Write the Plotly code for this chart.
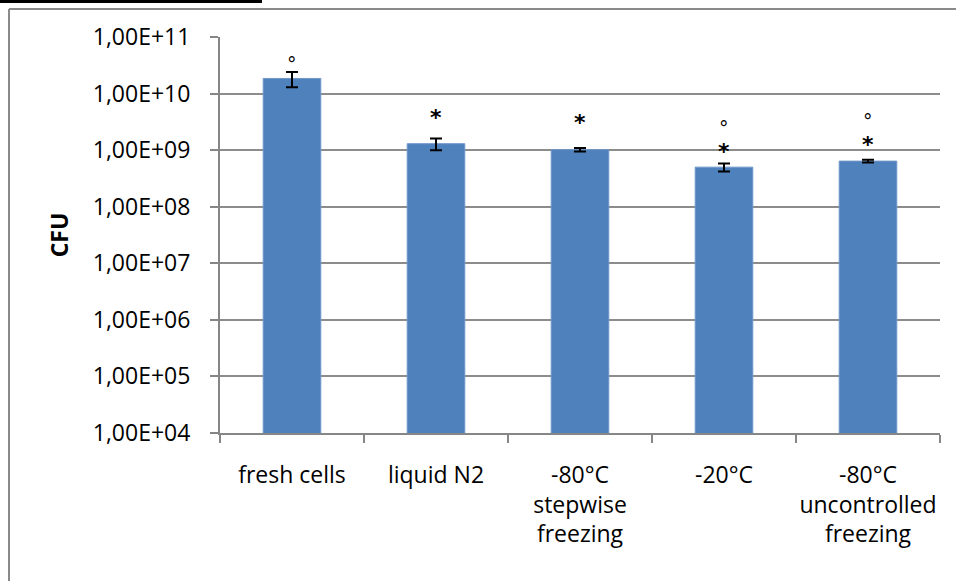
import math
import plotly.graph_objects as go

categories = ["fresh cells", "liquid N2", "-80°C<br>stepwise<br>freezing", "-20°C",
              "-80°C<br>uncontrolled<br>freezing"]
cfu = [1.85e10, 1.30e9, 1.02e9, 5.0e8, 6.4e8]
cfu_err = [5.6e9, 3.0e8, 7.0e7, 8.0e7, 3.5e7]
tick_vals = [1e4, 1e5, 1e6, 1e7, 1e8, 1e9, 1e10, 1e11]
tick_text = ["1,00E+04", "1,00E+05", "1,00E+06", "1,00E+07", "1,00E+08",
             "1,00E+09", "1,00E+10", "1,00E+11"]
# significance marks per bar
degree_mark = [True, False, False, True, True]
star_mark = [False, True, True, True, True]

FONT = "Open Sans"
SYM_FONT = "DejaVu Sans"
W, H = 956, 581
ML, MR, MT, MB = 220, 16, 37, 148

# pixel offsets of the marks above the error-bar tops (style only)
star_shift = [0, 21, 26, 12, 15]
degree_shift = [8, 0, 0, 36, 39]

fig = go.Figure()
fig.add_trace(go.Bar(
    x=categories, y=cfu,
    marker=dict(color="#4F81BD", line=dict(color="#6f96c8", width=1)),
    error_y=dict(type="data", array=cfu_err, visible=True,
                 color="black", thickness=2, width=6),
    width=0.4,
))

annotations = []
for i, (cat, v, e) in enumerate(zip(categories, cfu, cfu_err)):
    top = math.log10(v + e)
    if star_mark[i]:
        annotations.append(dict(
            x=cat, y=top, xref="x", yref="y", text="<b>*</b>", showarrow=False,
            yanchor="middle", yshift=star_shift[i],
            font=dict(family=SYM_FONT, size=22, color="black"),
        ))
    if degree_mark[i]:
        annotations.append(dict(
            x=cat, y=top, xref="x", yref="y", text="°", showarrow=False,
            yanchor="middle", yshift=degree_shift[i],
            font=dict(family=SYM_FONT, size=19, color="black"),
        ))

fig.update_layout(
    width=W, height=H,
    margin=dict(l=ML, r=MR, t=MT, b=MB, pad=0),
    paper_bgcolor="white", plot_bgcolor="white",
    showlegend=False,
    font=dict(family=FONT, size=23, color="black"),
    annotations=annotations,
    xaxis=dict(
        type="category", tickson="boundaries", ticks="outside", ticklen=8,
        tickcolor="#868686", tickwidth=2, showline=True, linecolor="#868686",
        linewidth=2, showgrid=False, tickangle=0, ticklabelstandoff=20,
        tickfont=dict(family=FONT, size=23),
    ),
    yaxis=dict(
        type="log", range=[4, 11], tickvals=tick_vals, ticktext=tick_text,
        ticks="outside", ticklen=8, tickcolor="#868686", tickwidth=2,
        showline=True, linecolor="#868686", linewidth=2,
        showgrid=True, gridcolor="#8c8c8c", gridwidth=2,
        ticklabelstandoff=15, zeroline=False,
        tickfont=dict(family=FONT, size=23),
        title=dict(text="<b>CFU</b>", standoff=18, font=dict(family=FONT, size=23)),
    ),
)

# document decorations: outer chart frame and cut-off rule at the very top
def px_x(px):
    return (px - ML) / (W - ML - MR)

def px_y(py):
    return (H - MB - py) / (H - MT - MB)

fig.add_shape(type="line", xref="paper", yref="paper",
              x0=px_x(9), x1=px_x(958), y0=px_y(9), y1=px_y(9),
              line=dict(color="#8a8a8a", width=2))
fig.add_shape(type="line", xref="paper", yref="paper",
              x0=px_x(9), x1=px_x(9), y0=px_y(9), y1=px_y(590),
              line=dict(color="#8a8a8a", width=2))
fig.add_shape(type="rect", xref="paper", yref="paper",
              x0=px_x(0), x1=px_x(262), y0=px_y(-2), y1=px_y(3),
              line=dict(width=0), fillcolor="black")

fig.write_html("out.html")
